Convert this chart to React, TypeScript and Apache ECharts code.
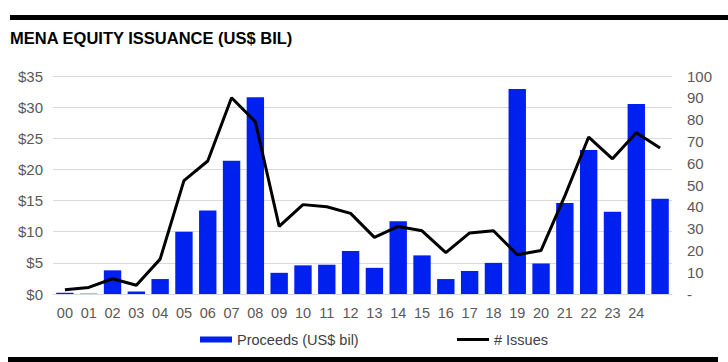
import React, { useEffect, useRef } from "react";
import * as echarts from "echarts";

const years = ["00","01","02","03","04","05","06","07","08","09","10","11","12","13","14","15","16","17","18","19","20","21","22","23","24","25"];
const proceeds = [0.2,0.05,3.8,0.4,2.4,10.0,13.4,21.4,31.6,3.4,4.6,4.7,6.9,4.2,11.7,6.2,2.4,3.7,5.0,32.9,4.9,14.6,23.1,13.2,30.5,15.3];
const issues = [2,3,7,4,16,52,61,90,79,31,41,40,37,26,31,29,19,28,29,18,20,45,72,62,74,67];
const leftTicks = { min: 0, max: 35, interval: 5 };
const rightTicks = { min: 0, max: 100, interval: 10 };

export default function App() {
  const ref = useRef<HTMLDivElement>(null);
  useEffect(() => {
    if (!ref.current) return;
    const chart = echarts.init(ref.current, null, { renderer: "svg" });
    const font = "Liberation Sans, Arial, sans-serif";
    const legendText = { fontSize: 14.5, color: "#404040", fontFamily: font };
    chart.setOption({
      animation: false,
      backgroundColor: "#ffffff",
      textStyle: { fontFamily: font },
      graphic: [
        { type: "rect", left: 10, top: 15, shape: { width: 718, height: 5 }, style: { fill: "#000" } },
        { type: "rect", left: 8, top: 357, shape: { width: 710, height: 5 }, style: { fill: "#000" } },
        { type: "text", left: 10, top: 29, style: { text: "MENA EQUITY ISSUANCE (US$ BIL)", font: "bold 16.5px " + font, fill: "#000" } },
      ],
      legend: [
        {
          left: 200,
          top: 332,
          padding: 0,
          itemWidth: 32,
          itemHeight: 6,
          textStyle: legendText,
          data: [{ name: "Proceeds (US$ bil)", icon: "rect" }],
        },
        {
          left: 457,
          top: 332,
          padding: 0,
          itemWidth: 32,
          itemHeight: 3,
          textStyle: legendText,
          data: [{ name: "# Issues", icon: "rect" }],
        },
      ],
      grid: { left: 53, right: 56, top: 76, bottom: 68 },
      xAxis: {
        type: "category",
        data: years,
        axisLine: { lineStyle: { color: "#d9d9d9" } },
        axisTick: { show: false },
        axisLabel: {
          color: "#595959",
          fontSize: 14.5,
          fontFamily: font,
          margin: 11,
          interval: 0,
          formatter: (v: string, i: number) => (i === years.length - 1 ? "" : v),
        },
      },
      yAxis: [
        {
          type: "value",
          ...leftTicks,
          axisLine: { show: false },
          axisTick: { show: false },
          splitLine: { lineStyle: { color: "#d9d9d9" } },
          axisLabel: { color: "#595959", fontSize: 15, fontFamily: font, margin: 10, formatter: (v: number) => "$" + v },
        },
        {
          type: "value",
          ...rightTicks,
          position: "right",
          axisLine: { show: false },
          axisTick: { show: false },
          splitLine: { show: false },
          axisLabel: { color: "#595959", fontSize: 15, fontFamily: font, margin: 15, formatter: (v: number) => (v === 0 ? "-" : String(v)) },
        },
      ],
      series: [
        {
          name: "Proceeds (US$ bil)",
          type: "bar",
          data: proceeds,
          yAxisIndex: 0,
          barCategoryGap: "27%",
          itemStyle: { color: "#0020F0" },
        },
        {
          name: "# Issues",
          type: "line",
          data: issues,
          yAxisIndex: 1,
          symbol: "none",
          lineStyle: { color: "#000", width: 3 },
          itemStyle: { color: "#000" },
        },
      ],
    });
    return () => chart.dispose();
  }, []);
  return <div ref={ref} style={{ position: "fixed", left: 0, top: 0, width: 728, height: 362 }} />;
}
